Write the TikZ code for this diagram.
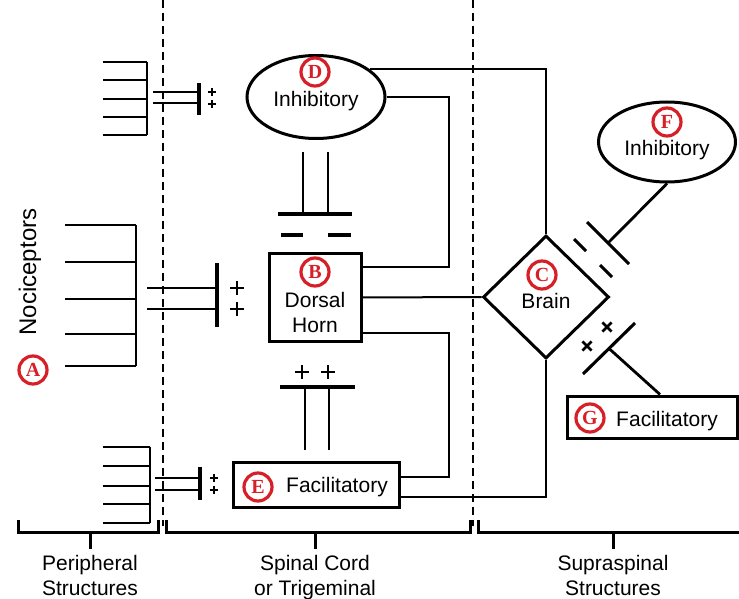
\documentclass[tikz,border=0pt]{standalone}
\usepackage{fontspec}
\setmainfont{Liberation Sans}
\newfontfamily\tagfont{Liberation Serif}
\usetikzlibrary{positioning, shapes.geometric, calc}
\definecolor{tagred}{RGB}{214,32,40}

\begin{document}
\begin{tikzpicture}[
  x=1pt, y=-1pt,
  font=\fontsize{21}{25}\selectfont,
  every node/.style={inner sep=0pt},
  outline/.style={draw=black, line width=3pt},
  boxnode/.style={outline, rectangle},
  ovalnode/.style={outline, ellipse},
  wire/.style={draw=black, line width=2pt},
  fiber/.style={draw=black, line width=2.8pt},
  synbar/.style={draw=black, line width=3.1pt},
  divider/.style={draw=black, line width=2pt, dash pattern=on 8pt off 5pt},
  brace/.style={draw=black, line width=3pt},
  tag/.style={circle, draw=tagred, line width=3.2pt, minimum size=28pt,
              text=tagred, font=\tagfont\bfseries\fontsize{20}{20}\selectfont},
  txt/.style={align=center},
  pics/plusmark/.style={code={
    \draw[line width=2.8pt] (-#1,0) -- (#1,0) (0,-#1) -- (0,#1);}},
]
\useasboundingbox (0,0) rectangle (739,599);

% ── Region dividers ────────────────────────────────────────────────
\draw[divider] (163,0) -- (163,526);
\draw[divider] (473,0) -- (473,526);

% ── Main nodes ─────────────────────────────────────────────────────
\node[ovalnode, minimum width=138pt, minimum height=83pt] (dInh) at (316,97) {};
\node[boxnode, minimum width=92pt, minimum height=88pt] (horn) at (315,297.5) {};
\node[boxnode, minimum width=166pt, minimum height=45pt] (eFac) at (316,484.5) {};
\node[outline, diamond, minimum width=126pt, minimum height=123pt] (brain) at (546,297) {};
\node[ovalnode, minimum width=137pt, minimum height=80pt] (fInh) at (667,142) {};
\node[boxnode, minimum width=170pt, minimum height=42pt] (gFac) at (652,417) {};

% ── Texts ──────────────────────────────────────────────────────────
\node[txt] (dInhT)  at (316,101)   {Inhibitory};
\node[txt] (hornT)  at (315,312.5) {Dorsal\\Horn};
\node[txt] (eFacT)  at (337,487.5) {Facilitatory};
\node[txt] (brainT) at (546,301)   {Brain};
\node[txt] (fInhT)  at (667,150)   {Inhibitory};
\node[txt] (gFacT)  at (667,421)   {Facilitatory};
\node[txt, rotate=90, font=\fontsize{24}{26}\selectfont] (nocT) at (30,272) {Nociceptors};

% ── Circled tags ───────────────────────────────────────────────────
\node[tag] (tagA) at (33,370)  {A};
\node[tag] (tagB) at (315,272) {B};
\node[tag] (tagC) at (542,275) {C};
\node[tag] (tagD) at (315,72)  {D};
\node[tag] (tagE) at (258,487) {E};
\node[tag] (tagF) at (667,122) {F};
\node[tag] (tagG) at (590,418) {G};

% ── Nociceptor groups (periphery) ──────────────────────────────────
\foreach \r in {62,80,99,117,135} \draw[fiber] (103,\r) -- (147,\r);
\draw[fiber] (147,62) -- (147,135);
\foreach \r in {225,262,299,334,366} \draw[fiber] (65,\r) -- (136,\r);
\draw[fiber] (136,225) -- (136,366);
\foreach \r in {447,466,486,504,523} \draw[fiber] (103,\r) -- (150,\r);
\draw[fiber] (150,447) -- (150,523);

% ── Afferent synapses into the cord ────────────────────────────────
\draw[fiber] (153,92) -- (199,92) (153,103) -- (199,103);
\draw[synbar] (199,83) -- (199,115);
\pic at (212,92) {plusmark=4};
\pic at (212,104) {plusmark=4};

\draw[fiber] (147,288) -- (217,288) (147,309) -- (217,309);
\draw[synbar] (217,263) -- (217,327);
\pic at (237,288) {plusmark=7};
\pic at (237,309) {plusmark=7};

\draw[fiber] (155,478) -- (200,478) (155,490) -- (200,490);
\draw[synbar] (200,467) -- (200,500);
\pic at (214,478) {plusmark=4};
\pic at (214,490) {plusmark=4};

% ── Inhibitory (D) -> dorsal horn ──────────────────────────────────
\foreach \x in {303,328} \draw[fiber] (\x,152) -- (\x,214);
\draw[synbar] (278,214) -- (352,214);
\draw[synbar] (281,235) -- (303,235) (328,235) -- (351,235);

% ── Facilitatory (E) -> dorsal horn ────────────────────────────────
\foreach \x in {305,329} \draw[fiber] (\x,450) -- (\x,387);
\draw[synbar] (280,387) -- (355,387);
\pic at (302,372) {plusmark=7};
\pic at (328,372) {plusmark=7};

% ── Wiring between cord and brain ──────────────────────────────────
\coordinate (busTop) at (449,267);
\coordinate (busBot) at (449,477);
\draw[wire] (dInh.east) -| (busTop) -- ([yshift=30.5pt]horn.east);
\draw[wire] ([yshift=-35.5pt]horn.east) -| (busBot) -- ([yshift=7.5pt]eFac.east);
\draw[wire] (horn.east) -- (brain.west);
\draw[wire] (dInh.27) -| (brain.north);
\draw[wire] ([yshift=-12.5pt]eFac.east) -| (brain.south);

% ── Supraspinal inhibition (F) ─────────────────────────────────────
\coordinate (fBar) at (608,243);
\draw[fiber] (fInh.south) -- (fBar);
\draw[synbar] (587,222) -- (629,264);
\draw[synbar] (574,239) -- (586,251) (600,265) -- (612,277);

% ── Supraspinal facilitation (G) ───────────────────────────────────
\coordinate (gBar) at (609,348.5);
\draw[fiber] ([xshift=8pt]gFac.north) -- (gBar);
\draw[synbar] (583,374) -- (635,323);
\pic[rotate=45] at (607,327) {plusmark=6.5};
\pic[rotate=45] at (587,346) {plusmark=6.5};

% ── Region brackets ────────────────────────────────────────────────
\draw[brace] (18,520) |- (158,532) -- (158,520);
\draw[brace] (90,532) -- (90,549);
\draw[brace] (166,520) |- (470,532) -- (470,520);
\draw[brace] (315,532) -- (315,549);
\draw[brace] (478,520) |- (739,532);
\draw[brace] (613,532) -- (613,549);

\node[txt, anchor=north] (perT)  at (90,555)  {Peripheral\\Structures};
\node[txt, anchor=north] (cordT) at (315,555) {Spinal Cord\\or Trigeminal};
\node[txt, anchor=north] (supT)  at (613,555) {Supraspinal\\Structures};

\end{tikzpicture}
\end{document}
